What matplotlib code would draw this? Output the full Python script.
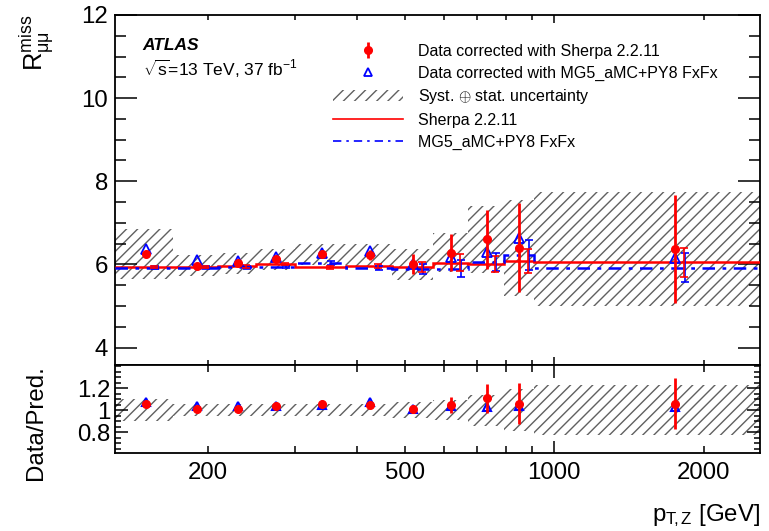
import numpy as np
import matplotlib
matplotlib.use('Agg')
import matplotlib.pyplot as plt
from matplotlib.ticker import MultipleLocator, FixedLocator, FuncFormatter, NullFormatter
from matplotlib.lines import Line2D
from matplotlib.patches import Patch

plt.rcParams['font.family'] = ['Liberation Sans', 'DejaVu Sans']
plt.rcParams['mathtext.fontset'] = 'custom'
plt.rcParams['mathtext.rm'] = 'Liberation Sans'
plt.rcParams['mathtext.it'] = 'Liberation Sans:italic'
plt.rcParams['mathtext.bf'] = 'Liberation Sans:bold'
plt.rcParams['hatch.linewidth'] = 1.0

# bins in pT,Z [GeV]
edges = np.array([130, 170, 210, 250, 300, 380, 470, 570, 670, 790, 910, 2600])

# data corrected with Sherpa / MG5
data_sherpa = np.array([6.24, 5.97, 6.03, 6.12, 6.24, 6.22, 6.00, 6.28, 6.60, 6.40, 6.38])
data_sherpa_err = np.array([0.04, 0.04, 0.05, 0.06, 0.08, 0.12, 0.24, 0.45, 0.71, 1.07, 1.30])
data_mg5 = np.array([6.36, 6.10, 6.08, 6.17, 6.27, 6.32, 6.02, 6.18, 6.30, 6.64, 6.15])

# syst (+) stat band half width
band = np.array([0.60, 0.26, 0.25, 0.25, 0.26, 0.26, 0.37, 0.47, 0.80, 1.15, 1.37])

# predictions
pred_sherpa = np.array([5.94, 5.94, 5.95, 6.01, 5.93, 5.96, 5.93, 6.04, 6.01, 6.08, 6.05])
pred_sherpa_err = np.array([0.03, 0.03, 0.03, 0.03, 0.04, 0.05, 0.12, 0.20, 0.19, 0.29, 0.35])
pred_mg5 = np.array([5.92, 5.92, 5.93, 5.94, 6.03, 5.92, 5.88, 5.90, 6.06, 6.22, 5.92])
pred_mg5_err = np.array([0.03, 0.03, 0.03, 0.03, 0.04, 0.05, 0.12, 0.20, 0.22, 0.36, 0.35])

# ratio panel
ratio_sherpa = np.array([1.052, 1.006, 1.009, 1.036, 1.052, 1.045, 1.010, 1.045, 1.106, 1.060, 1.060])
ratio_sherpa_err = np.array([0.01, 0.01, 0.01, 0.01, 0.015, 0.02, 0.04, 0.07, 0.13, 0.19, 0.23])
ratio_mg5 = np.array([1.075, 1.036, 1.036, 1.040, 1.050, 1.070, 1.010, 1.036, 1.030, 1.040, 1.030])
ratio_band = np.array([0.10, 0.055, 0.055, 0.055, 0.055, 0.055, 0.07, 0.09, 0.14, 0.19, 0.23])

centers = (edges[:-1] + edges[1:]) / 2
widths = np.diff(edges)
hatch_col = '#606060'
fs = 17.3

fig = plt.figure(figsize=(7.69, 5.31), dpi=100)
ax = fig.add_axes([0.1495, 0.3126, 0.8388, 0.6592])
axr = fig.add_axes([0.1495, 0.1469, 0.8388, 0.1657])

# main panel
ax.bar(edges[:-1], 2 * band, width=widths, bottom=data_sherpa - band, align='edge',
       facecolor='none', edgecolor=hatch_col, hatch='///', linewidth=0, zorder=1)
ax.stairs(pred_sherpa, edges, baseline=None, color='red', lw=1.8, zorder=3)
ax.stairs(pred_mg5, edges, baseline=None, color='blue', lw=1.8,
          linestyle=(0, (5, 3, 1.5, 3)), zorder=3)
ax.errorbar(centers * 1.045, pred_mg5, yerr=pred_mg5_err, fmt='none', ecolor='blue',
            elinewidth=1.2, capsize=3, capthick=1.2, zorder=3)
ax.errorbar(centers * 1.04, pred_sherpa, yerr=pred_sherpa_err, fmt='none', ecolor='red',
            elinewidth=1.2, capsize=3, capthick=1.2, zorder=3)
ax.plot(centers, data_mg5, '^', mfc='none', mec='blue', ms=7, mew=1.3, zorder=4)
ax.errorbar(centers, data_sherpa, yerr=data_sherpa_err, fmt='o', color='red', ms=5.5,
            elinewidth=2, capsize=0, zorder=5)

# ratio panel
axr.bar(edges[:-1], 2 * ratio_band, width=widths, bottom=1 - ratio_band, align='edge',
        facecolor='none', edgecolor=hatch_col, hatch='///', linewidth=0, zorder=1)
axr.plot(centers, ratio_mg5, '^', mfc='none', mec='blue', ms=6, mew=1.5, zorder=4)
axr.errorbar(centers, ratio_sherpa, yerr=ratio_sherpa_err, fmt='o', color='red', ms=5.5,
             elinewidth=2, capsize=0, zorder=5)

for a in (ax, axr):
    a.set_xscale('log')
    a.set_xlim(130, 2600)
    a.xaxis.set_major_locator(FixedLocator([1000]))
    a.xaxis.set_minor_locator(FixedLocator([200, 300, 400, 500, 600, 700, 800, 900, 2000]))
    a.tick_params(which='both', direction='in', top=True, right=True, width=1.1)
    for s in a.spines.values():
        s.set_linewidth(1.3)

ax.set_ylim(3.58, 12)
ax.yaxis.set_major_locator(MultipleLocator(2))
ax.yaxis.set_minor_locator(MultipleLocator(0.5))
ax.tick_params(axis='y', which='major', length=15.5, labelsize=fs, pad=5)
ax.tick_params(axis='y', which='minor', length=8)
ax.tick_params(axis='x', which='major', length=6)
ax.tick_params(axis='x', which='minor', length=3.5)
ax.xaxis.set_major_formatter(NullFormatter())
ax.xaxis.set_minor_formatter(NullFormatter())

axr.set_ylim(0.61, 1.41)
axr.yaxis.set_major_locator(FixedLocator([0.8, 1.0, 1.2]))
axr.yaxis.set_minor_locator(MultipleLocator(0.05))
axr.yaxis.set_major_formatter(FuncFormatter(lambda v, p: f'{v:g}'))
axr.tick_params(axis='y', which='major', length=9.5, labelsize=fs, pad=3)
axr.tick_params(axis='y', which='minor', length=4.5)
axr.tick_params(axis='x', which='major', length=9, labelsize=fs, pad=6.5)
axr.tick_params(axis='x', which='minor', length=5, labelsize=fs, pad=6.5)
axr.xaxis.set_major_formatter(FuncFormatter(lambda v, p: f'{v:g}'))
axr.xaxis.set_minor_formatter(FuncFormatter(lambda v, p: f'{v:g}' if round(v) in (200, 500, 2000) else ''))

ax.set_ylabel(r'$\mathrm{R}^{\mathrm{miss}}_{\mathrm{μμ}}$', loc='top', fontsize=fs + 1)
ax.yaxis.set_label_coords(-0.092, 1.0)
axr.set_ylabel('Data/Pred.', loc='top', fontsize=fs)
axr.yaxis.set_label_coords(-0.105, 1.0)
axr.set_xlabel(r'$\mathrm{p}_{\mathrm{T}\!,\mathrm{Z}}$ [GeV]', loc='right', fontsize=fs)
axr.xaxis.set_label_coords(1.0, -0.56)

ax.text(0.043, 0.90, 'ATLAS', transform=ax.transAxes, fontsize=12.5,
        fontweight='bold', fontstyle='italic', va='baseline')
ax.text(0.043, 0.826, r'$\sqrt{\mathrm{s}}$=13 TeV, 37 fb$^{\mathrm{-1}}$', transform=ax.transAxes,
        fontsize=12.5, va='baseline')

handles = [
    ax.errorbar([], [], yerr=[], fmt='o', color='red', ms=5.5, elinewidth=2),
    Line2D([], [], marker='^', ls='none', mfc='none', mec='blue', ms=6, mew=1.3),
    Patch(facecolor='none', edgecolor=hatch_col, hatch='///', linewidth=0),
    Line2D([], [], color='red', lw=1.2),
    Line2D([], [], color='blue', lw=1.2, linestyle=(0, (5, 3, 1.5, 3))),
]
labels = ['Data corrected with Sherpa 2.2.11',
          'Data corrected with MG5_aMC+PY8 FxFx',
          r'Syst. $\oplus$ stat. uncertainty',
          'Sherpa 2.2.11',
          'MG5_aMC+PY8 FxFx']
ax.legend(handles, labels, loc='upper left', bbox_to_anchor=(0.338, 0.918), frameon=False,
          fontsize=11.5, handlelength=4.4, handletextpad=0.9, labelspacing=0.42,
          borderpad=0, borderaxespad=0)

fig.savefig('out.png', dpi=100)
